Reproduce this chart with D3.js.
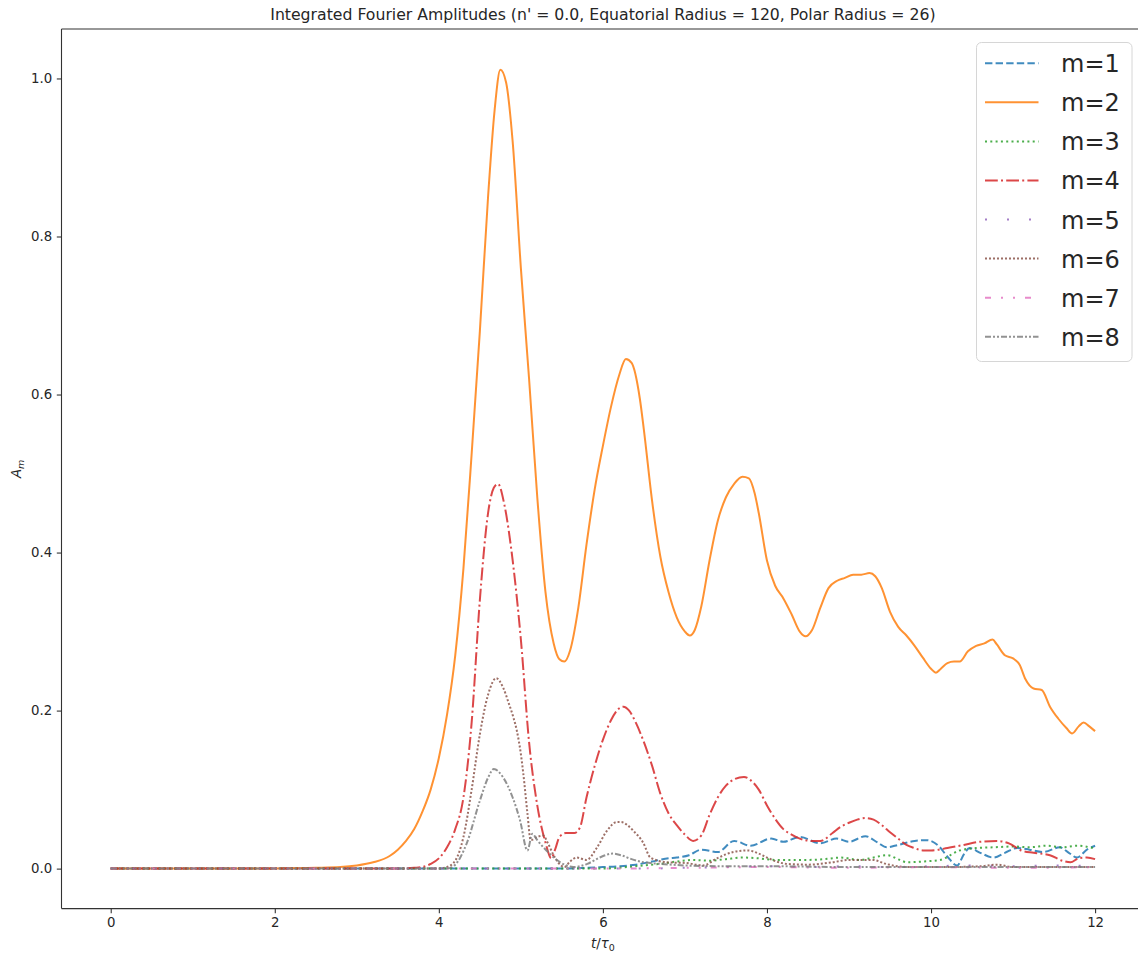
<!DOCTYPE html>
<html>
<head>
<meta charset="utf-8">
<script src="https://cdn.jsdelivr.net/npm/d3@7"></script>
<style>
  html, body { margin: 0; padding: 0; background: #ffffff; }
  svg { display: block; font-family: "DejaVu Sans", sans-serif; }
</style>
</head>
<body>
<svg id="chart" width="1138" height="956"></svg>
<script>
// Integrated Fourier amplitudes A_m versus t/tau0 for modes m = 1..8
const modeLabels = ["m=1", "m=2", "m=3", "m=4", "m=5", "m=6", "m=7", "m=8"];
const modeColors = ["#1f77b4", "#ff7f0e", "#2ca02c", "#d62728", "#9467bd", "#8c564b", "#e377c2", "#7f7f7f"];
const xTicks = [0, 2, 4, 6, 8, 10, 12];
const yTicks = [0.0, 0.2, 0.4, 0.6, 0.8, 1.0];

// [t/tau0, A_m] samples per mode
const ampM1 = [[0,0],[5.5,0],[5.8,0.001],[6.0,0.002],[6.2,0.003],[6.4,0.005],[6.6,0.009],[6.8,0.013],[6.9,0.014],[7.05,0.017],[7.2,0.024],[7.4,0.021],[7.6,0.035],[7.8,0.029],[8.05,0.038],[8.2,0.034],[8.4,0.04],[8.65,0.032],[8.85,0.038],[9.0,0.034],[9.2,0.041],[9.35,0.033],[9.46,0.027],[9.6,0.03],[9.8,0.035],[9.95,0.036],[10.1,0.028],[10.2,0.015],[10.32,0.004],[10.4,0.018],[10.47,0.026],[10.6,0.02],[10.76,0.014],[10.9,0.02],[11.05,0.026],[11.2,0.024],[11.37,0.021],[11.57,0.027],[11.68,0.02],[11.78,0.014],[11.9,0.024],[12.0,0.029]];

const ampM2 = [[0,0],[1,0],[2,0.0003],[2.5,0.001],[2.8,0.002],[3.0,0.004],[3.2,0.008],[3.4,0.016],[3.5,0.024],[3.6,0.035],[3.7,0.05],[3.8,0.072],[3.9,0.1],[4.0,0.14],[4.1,0.195],[4.2,0.27],[4.3,0.38],[4.4,0.525],[4.5,0.68],[4.6,0.85],[4.68,0.96],[4.75,1.011],[4.82,0.995],[4.9,0.92],[5.0,0.76],[5.1,0.62],[5.2,0.47],[5.3,0.35],[5.4,0.285],[5.47,0.265],[5.53,0.262],[5.6,0.276],[5.7,0.33],[5.8,0.41],[5.9,0.48],[6.0,0.535],[6.1,0.585],[6.2,0.625],[6.28,0.645],[6.35,0.64],[6.45,0.595],[6.5,0.555],[6.6,0.465],[6.7,0.395],[6.8,0.35],[6.9,0.318],[7.0,0.3],[7.06,0.295],[7.12,0.302],[7.2,0.332],[7.3,0.39],[7.4,0.44],[7.5,0.47],[7.6,0.487],[7.7,0.496],[7.78,0.494],[7.85,0.475],[7.9,0.45],[8.0,0.39],[8.1,0.358],[8.2,0.342],[8.3,0.322],[8.4,0.3],[8.47,0.294],[8.55,0.302],[8.65,0.33],[8.75,0.355],[8.85,0.364],[8.95,0.368],[9.05,0.372],[9.15,0.372],[9.25,0.374],[9.32,0.37],[9.4,0.355],[9.5,0.325],[9.6,0.306],[9.7,0.295],[9.8,0.282],[9.9,0.267],[10.0,0.253],[10.06,0.248],[10.12,0.253],[10.2,0.26],[10.28,0.262],[10.35,0.262],[10.45,0.275],[10.55,0.282],[10.65,0.285],[10.75,0.29],[10.8,0.284],[10.9,0.27],[11.0,0.266],[11.08,0.258],[11.15,0.24],[11.25,0.228],[11.35,0.226],[11.45,0.205],[11.55,0.19],[11.65,0.178],[11.72,0.171],[11.8,0.18],[11.86,0.185],[11.93,0.18],[12.0,0.174]];

const ampM3 = [[0,0],[6.0,0],[6.3,0.002],[6.5,0.004],[6.7,0.006],[6.9,0.009],[7.1,0.011],[7.3,0.01],[7.5,0.012],[7.7,0.014],[7.9,0.013],[8.1,0.011],[8.3,0.011],[8.5,0.011],[8.7,0.012],[8.9,0.014],[9.13,0.011],[9.3,0.014],[9.46,0.017],[9.62,0.011],[9.71,0.008],[9.9,0.009],[10.11,0.011],[10.35,0.023],[10.55,0.026],[10.76,0.027],[11.0,0.028],[11.2,0.027],[11.41,0.029],[11.6,0.027],[11.78,0.029],[11.98,0.026]];

const ampM4 = [[0,0],[3.5,0],[3.7,0.001],[3.8,0.002],[3.9,0.006],[4.0,0.013],[4.1,0.027],[4.2,0.05],[4.3,0.09],[4.4,0.185],[4.5,0.34],[4.6,0.45],[4.67,0.482],[4.72,0.487],[4.8,0.46],[4.9,0.39],[5.0,0.29],[5.1,0.16],[5.2,0.08],[5.3,0.033],[5.37,0.013],[5.42,0.025],[5.47,0.04],[5.55,0.045],[5.65,0.045],[5.72,0.052],[5.8,0.09],[5.9,0.13],[6.0,0.163],[6.1,0.188],[6.2,0.203],[6.25,0.205],[6.32,0.2],[6.4,0.185],[6.5,0.16],[6.6,0.13],[6.7,0.095],[6.8,0.07],[6.9,0.055],[7.0,0.043],[7.1,0.035],[7.2,0.042],[7.3,0.068],[7.4,0.09],[7.5,0.105],[7.6,0.113],[7.72,0.116],[7.8,0.112],[7.9,0.1],[8.0,0.08],[8.1,0.063],[8.2,0.05],[8.3,0.043],[8.4,0.038],[8.55,0.035],[8.65,0.035],[8.8,0.045],[8.9,0.053],[9.0,0.058],[9.1,0.062],[9.2,0.064],[9.3,0.062],[9.4,0.055],[9.5,0.046],[9.6,0.038],[9.7,0.03],[9.8,0.026],[9.9,0.023],[10.0,0.023],[10.2,0.026],[10.4,0.03],[10.6,0.034],[10.8,0.035],[10.95,0.032],[11.1,0.023],[11.25,0.02],[11.45,0.017],[11.6,0.01],[11.7,0.008],[11.8,0.013],[11.9,0.014],[12.0,0.012]];

const ampM5 = [[0,0],[6.5,0],[7,0.001],[7.5,0.002],[8,0.003],[8.5,0.002],[9,0.003],[9.5,0.002],[10,0.003],[10.5,0.004],[11,0.003],[11.5,0.004],[12,0.003]];

const ampM6 = [[0,0],[4.0,0],[4.1,0.002],[4.2,0.01],[4.3,0.04],[4.4,0.1],[4.5,0.17],[4.6,0.22],[4.7,0.241],[4.78,0.23],[4.85,0.21],[4.91,0.191],[4.95,0.175],[5.0,0.145],[5.03,0.12],[5.08,0.07],[5.12,0.036],[5.2,0.04],[5.27,0.042],[5.33,0.032],[5.39,0.019],[5.46,0.007],[5.53,0.002],[5.6,0.009],[5.68,0.014],[5.8,0.011],[5.93,0.027],[6.05,0.048],[6.17,0.059],[6.22,0.059],[6.3,0.055],[6.37,0.048],[6.49,0.033],[6.58,0.014],[6.78,0.008],[7.02,0.007],[7.22,0.004],[7.39,0.013],[7.59,0.021],[7.77,0.023],[7.9,0.019],[8.0,0.014],[8.24,0.006],[8.5,0.005],[8.8,0.008],[9.0,0.011],[9.29,0.011],[9.45,0.006],[9.7,0.002],[10.2,0.002],[10.6,0.003],[10.8,0.005],[11.0,0.002],[12,0.002]];

const ampM7 = [[0,0],[6,0],[7,0.001],[8,0.002],[9,0.001],[10,0.002],[11,0.001],[12,0.002]];

const ampM8 = [[0,0],[4.1,0],[4.2,0.005],[4.34,0.032],[4.5,0.086],[4.6,0.115],[4.67,0.126],[4.78,0.116],[4.9,0.09],[4.99,0.061],[5.08,0.023],[5.14,0.044],[5.2,0.036],[5.35,0.019],[5.48,0.008],[5.64,0.002],[5.81,0.006],[5.96,0.014],[6.12,0.019],[6.22,0.017],[6.35,0.012],[6.5,0.008],[6.7,0.006],[7.0,0.004],[7.5,0.003],[8,0.003],[9,0.002],[10,0.002],[11,0.002],[12,0.002]];

const modeSeries = [ampM1, ampM2, ampM3, ampM4, ampM5, ampM6, ampM7, ampM8];

// line dash patterns (dashed, solid, dotted, dash-dot, loose dots, dense dots, dash-dot-dot, dense dash-dot-dot)
const modeDashes = ["7.4,3.2", null, "2,3.3", "12.8,3.2,2,3.2", "2,20", "2,2", "6,10,2,10,2,10", "6,2,2,2,2,2"];

const W = 1138, H = 956;
const plot = { left: 61.5, right: 1144.3, top: 29, bottom: 908.6 };

const svg = d3.select("#chart");

const x = d3.scaleLinear().domain([-0.6, 12.6]).range([plot.left, plot.right]);
const y = d3.scaleLinear().domain([-0.0506, 1.0626]).range([plot.bottom, plot.top]);

// clip for the data lines
svg.append("defs").append("clipPath").attr("id", "plotClip")
  .append("rect")
  .attr("x", plot.left).attr("y", plot.top)
  .attr("width", plot.right - plot.left).attr("height", plot.bottom - plot.top);

const line = d3.line()
  .x(d => x(d[0]))
  .y(d => y(d[1]))
  .curve(d3.curveMonotoneX);

const lines = svg.append("g").attr("clip-path", "url(#plotClip)");
modeSeries.forEach((series, i) => {
  lines.append("path")
    .datum(series)
    .attr("d", line)
    .attr("fill", "none")
    .attr("stroke", modeColors[i])
    .attr("stroke-opacity", 0.85)
    .attr("stroke-width", 2)
    .attr("stroke-linejoin", "round")
    .attr("stroke-linecap", "butt")
    .attr("stroke-dasharray", modeDashes[i]);
});

// axes
const axisColor = "#333";
const xAxis = d3.axisBottom(x).tickValues(xTicks).tickFormat(d3.format("d"))
  .tickSize(4.7).tickPadding(4.7);
const yAxis = d3.axisLeft(y).tickValues(yTicks).tickFormat(d3.format(".1f"))
  .tickSize(4.7).tickPadding(4.7);

const gx = svg.append("g").attr("transform", `translate(0,${plot.bottom})`).call(xAxis);
const gy = svg.append("g").attr("transform", `translate(${plot.left},0)`).call(yAxis);
[gx, gy].forEach(g => {
  g.select(".domain").remove();
  g.selectAll(".tick line").attr("stroke", axisColor).attr("stroke-width", 1.1);
  g.selectAll(".tick text")
    .attr("fill", "#262626")
    .style("font-family", "DejaVu Sans")
    .style("font-size", "13.3px");
});

// spines
const spines = svg.append("g").attr("stroke", axisColor).attr("stroke-width", 1.1).attr("fill", "none");
spines.append("line").attr("x1", plot.left).attr("x2", plot.left).attr("y1", plot.top).attr("y2", plot.bottom);
spines.append("line").attr("x1", plot.left).attr("x2", plot.right).attr("y1", plot.bottom).attr("y2", plot.bottom);
spines.append("line").attr("x1", plot.left).attr("x2", plot.right).attr("y1", plot.top).attr("y2", plot.top);
spines.append("line").attr("x1", plot.right).attr("x2", plot.right).attr("y1", plot.top).attr("y2", plot.bottom);

// title
svg.append("text")
  .attr("x", (plot.left + plot.right) / 2)
  .attr("y", 19.5)
  .attr("text-anchor", "middle")
  .attr("fill", "#262626")
  .style("font-size", "15.7px")
  .text("Integrated Fourier Amplitudes (n' = 0.0, Equatorial Radius = 120, Polar Radius = 26)");

// x label: t / tau_0
const xl = svg.append("text")
  .attr("x", (plot.left + plot.right) / 2)
  .attr("y", 948)
  .attr("text-anchor", "middle")
  .attr("fill", "#262626")
  .style("font-size", "13.3px");
xl.append("tspan").style("font-style", "italic").text("t");
xl.append("tspan").text("/");
xl.append("tspan").style("font-style", "italic").text("τ");
xl.append("tspan").attr("dy", 3).style("font-size", "9.5px").text("0");

// y label: A_m
const yl = svg.append("text")
  .attr("transform", `translate(21,${(plot.top + plot.bottom) / 2}) rotate(-90)`)
  .attr("text-anchor", "middle")
  .attr("fill", "#262626")
  .style("font-size", "13.3px");
yl.append("tspan").style("font-style", "italic").text("A");
yl.append("tspan").attr("dy", 3).style("font-size", "9.5px").style("font-style", "italic").text("m");

// legend
const legend = svg.append("g");
legend.append("rect")
  .attr("x", 976.5).attr("y", 42.5)
  .attr("width", 155.5).attr("height", 319)
  .attr("rx", 5).attr("ry", 5)
  .attr("fill", "#ffffff").attr("fill-opacity", 0.8)
  .attr("stroke", "#d6d6d6").attr("stroke-width", 1);

const rowY = d3.scaleLinear().domain([0, 7]).range([63.3, 336.7]);
modeLabels.forEach((label, i) => {
  const cy = rowY(i);
  legend.append("line")
    .attr("x1", 985).attr("x2", 1038.5)
    .attr("y1", cy).attr("y2", cy)
    .attr("stroke", modeColors[i])
    .attr("stroke-opacity", 0.85)
    .attr("stroke-width", 2)
    .attr("stroke-dasharray", modeDashes[i]);
  legend.append("text")
    .attr("x", 1061)
    .attr("y", cy + 9)
    .attr("fill", "#262626")
    .style("font-size", "24px")
    .text(label);
});
</script>
</body>
</html>
